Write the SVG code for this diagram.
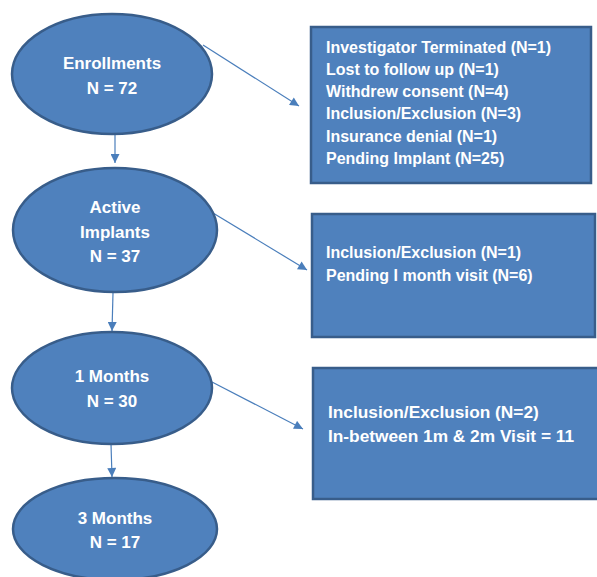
<svg xmlns="http://www.w3.org/2000/svg" width="597" height="577" viewBox="0 0 597 577">
<defs>
<marker id="arr" viewBox="0 0 10 10" refX="10" refY="5" markerWidth="10" markerHeight="9" markerUnits="userSpaceOnUse" orient="auto">
<path d="M0,0 L10,5 L0,10 Z" fill="#4A7EBB"/>
</marker>
<style>
.shape{fill:#4F81BD;stroke:#385D8A;stroke-width:2.5}
.t{fill:#FFFFFF;font-family:"Liberation Sans",Arial,sans-serif;font-weight:bold;font-size:16px}
.c{text-anchor:middle;font-size:17px}
.b3{font-size:17.3px}
.conn{stroke:#4A7EBB;stroke-width:1.2;fill:none;marker-end:url(#arr)}
</style>
</defs>
<rect width="597" height="577" fill="#FFFFFF"/>
<g id="connectors">
<line class="conn" x1="115" y1="135" x2="115" y2="163"/>
<line class="conn" x1="113" y1="293" x2="112" y2="331"/>
<line class="conn" x1="111" y1="444" x2="112" y2="477"/>
<line class="conn" x1="203" y1="45" x2="299" y2="106"/>
<line class="conn" x1="213" y1="213" x2="307" y2="270"/>
<line class="conn" x1="212" y1="382" x2="303" y2="429"/>
</g>
<g id="enrollments">
<ellipse class="shape" cx="112" cy="74" rx="100" ry="60"/>
<text class="t c" x="112" y="69">Enrollments</text>
<text class="t c" x="112" y="94">N = 72</text>
</g>
<g id="active-implants">
<ellipse class="shape" cx="115" cy="230" rx="102" ry="62"/>
<text class="t c" x="115" y="213">Active</text>
<text class="t c" x="115" y="238">Implants</text>
<text class="t c" x="115" y="262">N = 37</text>
</g>
<g id="one-month">
<ellipse class="shape" cx="112" cy="388" rx="100" ry="56"/>
<text class="t c" x="112" y="382">1 Months</text>
<text class="t c" x="112" y="407">N = 30</text>
</g>
<g id="three-months">
<ellipse class="shape" cx="115" cy="529" rx="102" ry="51"/>
<text class="t c" x="115" y="524">3 Months</text>
<text class="t c" x="115" y="548">N = 17</text>
</g>
<g id="box-enrollments">
<rect class="shape" x="311" y="27" width="280" height="156"/>
<text class="t" x="326" y="53">Investigator Terminated (N=1)</text>
<text class="t" x="326" y="75">Lost to follow up (N=1)</text>
<text class="t" x="326" y="97">Withdrew consent (N=4)</text>
<text class="t" x="326" y="119">Inclusion/Exclusion (N=3)</text>
<text class="t" x="326" y="142">Insurance denial (N=1)</text>
<text class="t" x="326" y="164">Pending Implant (N=25)</text>
</g>
<g id="box-implants">
<rect class="shape" x="312" y="214" width="283" height="123"/>
<text class="t" x="326" y="258">Inclusion/Exclusion (N=1)</text>
<text class="t" x="326" y="281">Pending I month visit (N=6)</text>
</g>
<g id="box-one-month">
<rect class="shape" x="313" y="368" width="290" height="131"/>
<text class="t b3" x="328" y="418">Inclusion/Exclusion (N=2)</text>
<text class="t b3" x="328" y="442">In-between 1m &amp; 2m Visit = 11</text>
</g>
</svg>
